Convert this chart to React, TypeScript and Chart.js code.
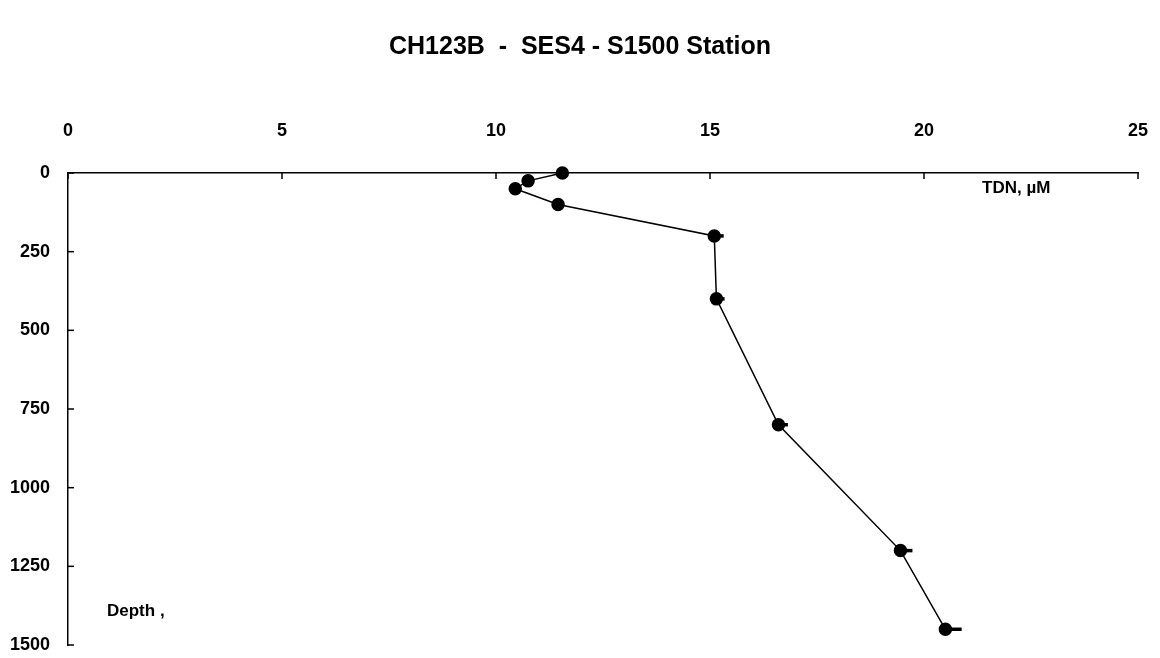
import React, { useEffect, useRef } from "react";
import { Chart, registerables } from "chart.js";

Chart.register(...registerables);

const titleText = "CH123B  -  SES4 - S1500 Station";
const xLabelText = "TDN, \u00b5M";
const yLabelText = "Depth ,";
const xTicks = [0, 5, 10, 15, 20, 25];
const yTicks = [0, 250, 500, 750, 1000, 1250, 1500];
const depths = [0, 25, 50, 100, 200, 400, 800, 1200, 1450];
const tdn = [11.55, 10.75, 10.45, 11.45, 15.1, 15.15, 16.6, 19.45, 20.5];
const tdnErr = [0.1, 0.1, 0.1, 0.1, 0.22, 0.19, 0.22, 0.28, 0.38];

const FONT = "'Liberation Sans', Arial, sans-serif";

export default function App() {
  const ref = useRef<HTMLCanvasElement | null>(null);
  useEffect(() => {
    if (!ref.current) return;
    const extras = {
      id: "extras",
      afterDatasetsDraw(chart: any) {
        const ctx = chart.ctx;
        const xs = chart.scales.x;
        const ys = chart.scales.y;
        const a = chart.chartArea;
        ctx.save();
        ctx.strokeStyle = "#000";
        ctx.lineWidth = 1.5;
        xTicks.forEach((t) => {
          const px = xs.getPixelForValue(t);
          ctx.beginPath();
          ctx.moveTo(px, a.top);
          ctx.lineTo(px, a.top + 6);
          ctx.stroke();
        });
        yTicks.forEach((t) => {
          const py = ys.getPixelForValue(t);
          ctx.beginPath();
          ctx.moveTo(a.left, py);
          ctx.lineTo(a.left + 6, py);
          ctx.stroke();
        });
        // plus-only error bars
        ctx.lineWidth = 3.5;
        depths.forEach((d, i) => {
          const py = ys.getPixelForValue(d);
          const x1 = xs.getPixelForValue(tdn[i]);
          const x2 = xs.getPixelForValue(tdn[i] + tdnErr[i]);
          ctx.beginPath();
          ctx.moveTo(x1, py);
          ctx.lineTo(x2, py);
          ctx.stroke();
        });
        ctx.fillStyle = "#000";
        ctx.textAlign = "center";
        ctx.textBaseline = "middle";
        ctx.font = `bold 25px ${FONT}`;
        ctx.fillText(titleText, 580, 47);
        ctx.font = `bold 17px ${FONT}`;
        ctx.textAlign = "left";
        ctx.fillText(xLabelText, 982, 188);
        ctx.fillText(yLabelText, 107, 611);
        ctx.restore();
      },
    };
    const chart = new Chart(ref.current, {
      type: "line",
      data: {
        datasets: [
          {
            data: depths.map((d, i) => ({ x: tdn[i], y: d })),
            borderColor: "#000",
            backgroundColor: "#000",
            borderWidth: 1.5,
            pointRadius: 6,
            pointBackgroundColor: "#000",
            pointBorderColor: "#000",
            clip: false as any,
          },
        ],
      },
      options: {
        animation: false,
        responsive: false,
        maintainAspectRatio: false,
        layout: { padding: { left: 0, top: 0, right: 22, bottom: 13 } },
        plugins: { legend: { display: false }, tooltip: { enabled: false }, title: { display: false } },
        scales: {
          x: {
            type: "linear",
            position: "top",
            min: 0,
            max: 25,
            afterFit: (s: any) => {
              s.height = 173;
              s.paddingLeft = 0;
              s.paddingRight = 0;
            },
            afterBuildTicks: (s: any) => {
              s.ticks = xTicks.map((v) => ({ value: v }));
            },
            grid: { display: false, drawTicks: false },
            border: { display: true, color: "#000", width: 1.5 },
            ticks: {
              color: "#000",
              padding: 31,
              maxRotation: 0,
              callback: (v: any) => String(v),
              font: { family: FONT, size: 18, weight: "bold" },
            },
          },
          y: {
            type: "linear",
            reverse: true,
            min: 0,
            max: 1500,
            afterFit: (s: any) => {
              s.width = 68;
              s.paddingTop = 0;
              s.paddingBottom = 0;
            },
            afterBuildTicks: (s: any) => {
              s.ticks = yTicks.map((v) => ({ value: v }));
            },
            grid: { display: false, drawTicks: false },
            border: { display: true, color: "#000", width: 1.5 },
            ticks: {
              color: "#000",
              padding: 18,
              callback: (v: any) => String(v),
              font: { family: FONT, size: 18, weight: "bold" },
            },
          },
        },
      },
      plugins: [extras],
    } as any);
    return () => chart.destroy();
  }, []);
  return (
    <div style={{ position: "absolute", left: 0, top: 0, width: 1160, height: 658, background: "#fff" }}>
      <canvas ref={ref} width={1160} height={658} style={{ display: "block" }} />
    </div>
  );
}
